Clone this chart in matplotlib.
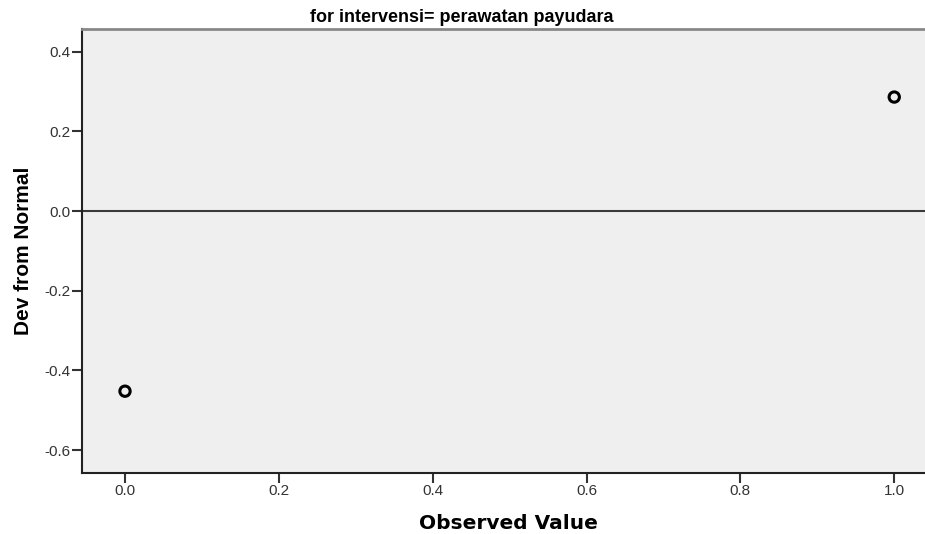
import matplotlib
matplotlib.use("Agg")
import matplotlib.pyplot as plt

observed = [0.0, 1.0]
deviation = [-0.452, 0.286]
xticks = [0.0, 0.2, 0.4, 0.6, 0.8, 1.0]
yticks = [-0.6, -0.4, -0.2, 0.0, 0.2, 0.4]

plt.rcParams['font.family'] = ['Liberation Sans', 'DejaVu Sans']

fig = plt.figure(figsize=(9.25, 5.34), dpi=100)
ax = fig.add_axes([82/925, 1-472.5/534, (925-82)/925 + 0.01, (472.5-29.3)/534])
ax.set_facecolor('#efefef')
ax.axhline(0.0, color='#3a3a3a', lw=1.5, zorder=1)
ax.scatter(observed, deviation, s=55, facecolors='none', edgecolors='black', linewidths=2.2, zorder=3)
ax.set_xlim(-0.0559, 1.052)
ax.set_ylim(-0.656, 0.456)
ax.set_xticks(xticks)
ax.set_xticklabels([f"{v:.1f}" for v in xticks])
ax.set_yticks(yticks)
ax.set_yticklabels([f"{v:.1f}" for v in yticks])
ax.tick_params(axis='both', labelsize=11, length=7, width=1.5, color='#333333',
               labelcolor='#333333', pad=1.5)
for s in ['left', 'bottom']:
    ax.spines[s].set_linewidth(1.5)
    ax.spines[s].set_color('#222222')
ax.spines['top'].set_color('#888888')
ax.spines['top'].set_linewidth(2)
ax.spines['right'].set_visible(False)
ax.set_xlabel('Observed Value', fontsize=14.5, fontweight='bold', labelpad=11,
              family=['DejaVu Sans'])
ax.set_ylabel('Dev from Normal', fontsize=15, fontweight='bold', labelpad=8)
fig.text(462/925, 1-22/534, 'for intervensi= perawatan payudara', fontsize=13,
         fontweight='bold', ha='center', va='baseline')
fig.savefig('out.png', dpi=100)
